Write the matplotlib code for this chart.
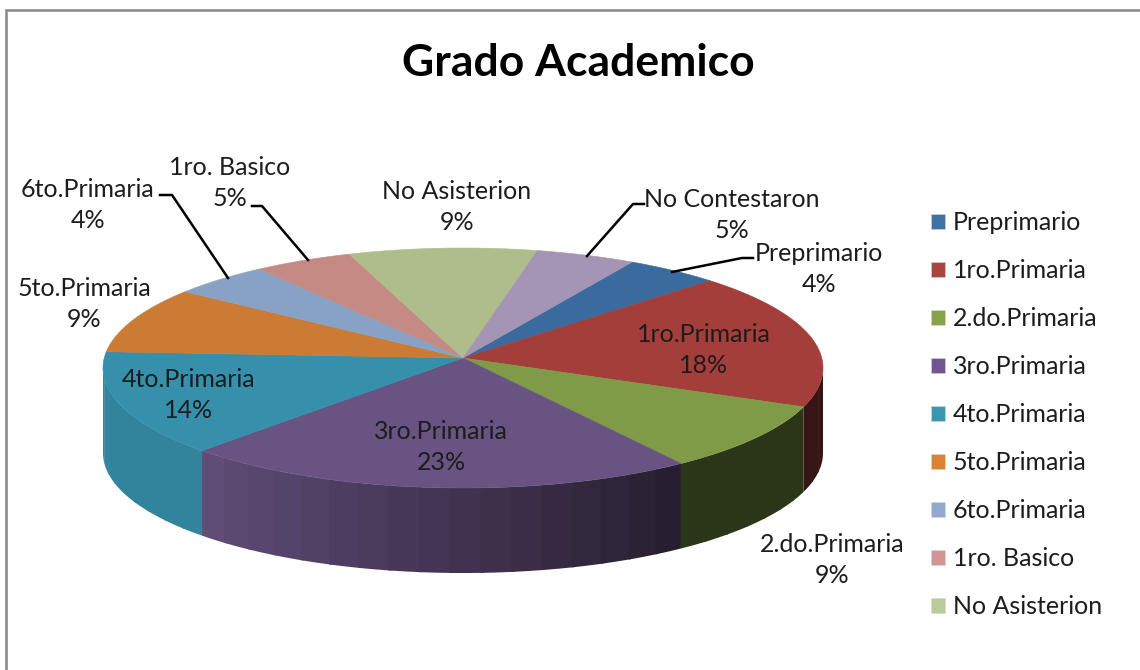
import numpy as np
import matplotlib
matplotlib.use("Agg")
import matplotlib.pyplot as plt
from matplotlib.patches import Patch

plt.rcParams['font.family'] = ['Lato', 'DejaVu Sans']

# --- datos ---
categorias = ["Preprimario", "1ro.Primaria", "2.do.Primaria", "3ro.Primaria", "4to.Primaria",
              "5to.Primaria", "6to.Primaria", "1ro. Basico", "No Asisterion", "No Contestaron"]
valores = [4.3, 18.4, 9.49, 23.49, 14.4, 8.9, 4.49, 4.51, 8.51, 4.51]

colores = ["#3a6a9e", "#a33e3b", "#7f9b47", "#685382", "#368fab",
           "#cc7b34", "#88a2c6", "#c48a83", "#aebd8a", "#a495b4"]
colores_leyenda = ["#3f70a6", "#ab433f", "#87a24a", "#705591", "#3798b0",
                   "#dc8233", "#93a8cd", "#d29593", "#b9cb97", "#a495b4"]

# posicion del texto de cada etiqueta (centro, en pixeles)
pos_etiquetas = [(819, 269), (704, 350), (832, 560), (441, 447), (189, 395),
                 (84, 304), (88, 205), (230, 183), (457, 207), (732, 215)]

# lineas guia de las etiquetas que quedan lejos
guias = {
    "Preprimario": [(753, 258), (742, 258), (672, 272)],
    "6to.Primaria": [(160, 195), (172, 195), (228, 278)],
    "1ro. Basico": [(252, 206), (262, 206), (308, 260)],
    "No Contestaron": [(644, 204), (633, 204), (587, 256)],
}

# geometria del pastel
cx, cy = 463, 368      # centro de la elipse
rx, ry = 360, 120
apex = (463, 358)      # punto donde se juntan las rebanadas
alto = 85
inicio = 62            # grados


def borde(ang):
    t = np.radians(ang)
    return cx + rx * np.cos(t), cy - ry * np.sin(t)


def luz(ang):
    # sombreado del costado, mas oscuro hacia la derecha
    return np.interp(ang, [-180, -135, -50, 0], [0.92, 0.92, 0.34, 0.34])


fig = plt.figure(figsize=(11.4, 6.7), dpi=100)
ax = fig.add_axes([0, 0, 1, 1])
ax.set_xlim(0, 1140)
ax.set_ylim(670, 0)
ax.axis("off")

# marco gris
ax.plot([6, 6, 1140], [670, 10, 10], color="#8c8c8c", lw=1.9, solid_joinstyle="miter")

# --- costados y caras ---
total = sum(valores)
a0 = inicio
for nombre, v, c in zip(categorias, valores, colores):
    a1 = a0 - v / total * 360
    rgb = np.array(matplotlib.colors.to_rgb(c))

    # costado, solo la mitad de adelante
    ini, fin = max(a1, -180), min(a0, 0)
    if fin > ini:
        cortes = np.linspace(ini, fin, int((fin - ini) / 5) + 2)
        for b0, b1 in zip(cortes[:-1], cortes[1:]):
            # cada banda se monta un poco sobre la siguiente para que no se vea la union
            tramo = np.linspace(b0, min(b1 + 0.5, fin), 6)
            x, y = borde(tramo)
            col = rgb * luz((b0 + b1) / 2)
            ax.fill(np.r_[x, x[::-1]], np.r_[y, y[::-1] + alto],
                    facecolor=col, edgecolor="none", zorder=2)

    # cara de arriba
    x, y = borde(np.linspace(a0, a1, 80))
    ax.fill(np.r_[apex[0], x], np.r_[apex[1], y], facecolor=c, edgecolor=c, lw=0.4, zorder=3)
    a0 = a1

# --- etiquetas ---
for nombre, v, (tx, ty) in zip(categorias, valores, pos_etiquetas):
    ax.text(tx, ty, f"{nombre}\n{v:.0f}%", ha="center", va="center", fontsize=18,
            color="#1c1c1c", linespacing=1.4, zorder=5)

for pts in guias.values():
    ax.plot([p[0] for p in pts], [p[1] for p in pts], color="black", lw=1.8, zorder=4)

ax.text(578, 63, "Grado Academico", ha="center", va="center", fontsize=32,
        fontweight="bold", color="black")

# --- leyenda (en la imagen solo se ven 9) ---
handles = [Patch(facecolor=colores_leyenda[i], edgecolor="#d8d8d8", lw=0.4, label=categorias[i])
           for i in range(9)]
ax.legend(handles=handles, loc="upper left", bbox_to_anchor=(931, 211),
          bbox_transform=ax.transData, frameon=False, fontsize=18, borderpad=0,
          borderaxespad=0, handlelength=0.56, handleheight=0.56, handletextpad=0.32,
          labelspacing=1.0, labelcolor="#1c1c1c")

fig.savefig("out.png", dpi=100)
